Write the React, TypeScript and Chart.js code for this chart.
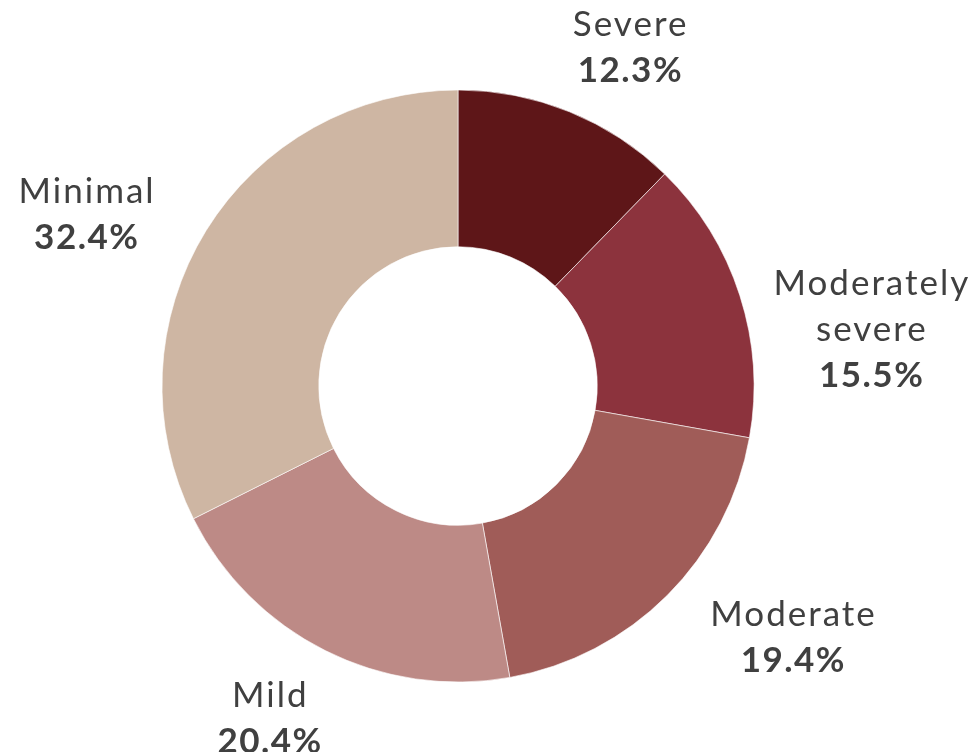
import React, { useEffect, useRef } from "react";
import { Chart, registerables } from "chart.js";

Chart.register(...registerables);

const categories = ["Severe", "Moderately severe", "Moderate", "Mild", "Minimal"];
const labelLines = [["Severe"], ["Moderately", "severe"], ["Moderate"], ["Mild"], ["Minimal"]];
const values = [12.3, 15.5, 19.4, 20.4, 32.4];
const colors = ["#5E1618", "#8C333D", "#A05C58", "#BD8A86", "#CEB6A3"];
// label nudges (px) relative to a point just outside each arc's middle
const labelNudge = [
  [45, -27],
  [93, 47],
  [97, 14],
  [-38, 32],
  [-86, 5],
];

const FONT = "Lato, 'Open Sans', sans-serif";

const labelPlugin = {
  id: "outsideLabels",
  afterDraw(chart: any) {
    const ctx = chart.ctx;
    const meta = chart.getDatasetMeta(0);
    ctx.save();
    ctx.textAlign = "center";
    ctx.textBaseline = "middle";
    ctx.fillStyle = "#404040";
    const lh = 46;
    meta.data.forEach((arc: any, i: number) => {
      const { x, y, startAngle, endAngle, outerRadius } = arc.getProps(
        ["x", "y", "startAngle", "endAngle", "outerRadius"],
        true
      );
      const mid = (startAngle + endAngle) / 2;
      const r = outerRadius + 40;
      const bx = x + Math.cos(mid) * r + labelNudge[i][0];
      const by = y + Math.sin(mid) * r + labelNudge[i][1];
      const lines = [...labelLines[i], values[i].toFixed(1) + "%"];
      const top = by - ((lines.length - 1) * lh) / 2;
      lines.forEach((t, j) => {
        const bold = j === lines.length - 1;
        const sp = bold ? 1.5 : 2;
        ctx.font = `${bold ? "bold " : ""}35px ${FONT}`;
        (ctx as any).letterSpacing = `${sp}px`;
        ctx.fillText(t, bx + sp / 2, top + j * lh);
      });
    });
    ctx.restore();
  },
};

export default function App() {
  const ref = useRef<HTMLCanvasElement>(null);
  useEffect(() => {
    if (!ref.current) return;
    const chart = new Chart(ref.current, {
      type: "doughnut",
      data: {
        labels: categories,
        datasets: [
          {
            data: values,
            backgroundColor: colors,
            borderColor: "rgba(255,255,255,0.6)",
            borderWidth: 1,
            radius: 296,
            cutout: 139,
          } as any,
        ],
      },
      options: {
        animation: false,
        responsive: false,
        maintainAspectRatio: false,
        layout: { padding: { left: 162, right: 223, top: 90, bottom: 70 } },
        plugins: { legend: { display: false }, tooltip: { enabled: false } },
      },
      plugins: [labelPlugin],
    });
    return () => chart.destroy();
  }, []);
  return (
    <div style={{ position: "fixed", left: 0, top: 0, width: 977, height: 752, background: "#fff" }}>
      <canvas ref={ref} width={977} height={752} style={{ width: 977, height: 752 }} />
    </div>
  );
}
